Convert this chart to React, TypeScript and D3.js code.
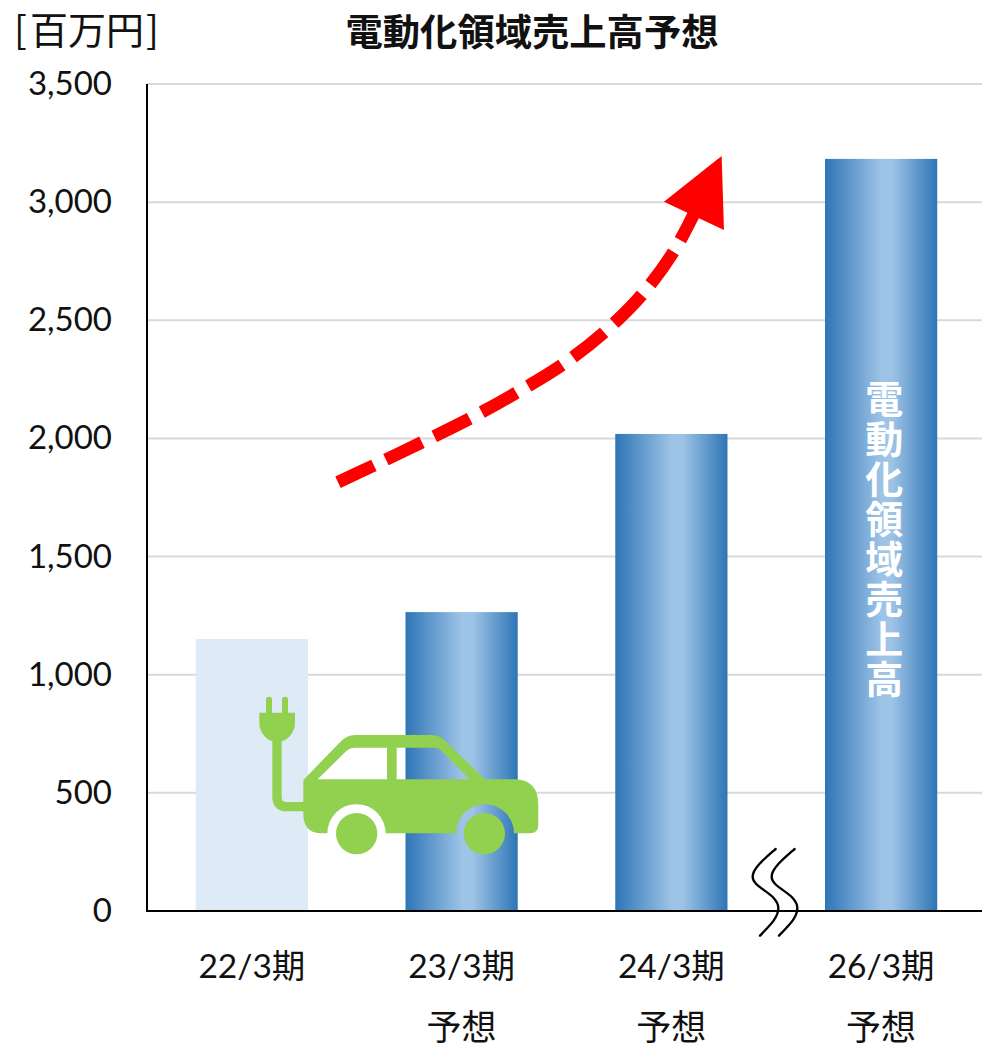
import React from 'react';
import * as d3 from 'd3';

const categories = ['22/3期', '23/3期', '24/3期', '26/3期'];
const subLabels = ['', '予想', '予想', '予想'];
const values = [1151, 1265, 2019, 3183];
const yTicks = [0, 500, 1000, 1500, 2000, 2500, 3000, 3500];
const title = '電動化領域売上高予想';
const unit = '[百万円]';
const barLabel = '電動化領域売上高';

const arrowPts: [number, number][] = [[54, 1027], [162, 976], [306, 907], [449, 836], [590, 758], [726, 675], [851, 578], [965, 465], [1061, 335], [1125, 215]];

const W = 982, H = 1044;
const JP = '"Noto Sans CJK JP", sans-serif';
const LAT = 'Lato, "Noto Sans CJK JP", sans-serif';

const carBody =
  'M190,300 L300,187 Q320,165 345,165 L575,165 Q600,165 620,187 L735,298 L825,298 Q895,300 895,375 L895,435 Q895,460 870,460 L822,460 A87,87 0 0 0 648,460 L437,460 A87,87 0 0 0 262,460 L240,460 Q190,458 190,400 Z ' +
  'M233,298 L320,212 Q330,203 345,203 L441,203 L441,298 Z M470,203 L585,203 Q597,203 605,212 L688,298 L470,298 Z';

export default function App() {
  const x = d3.scaleBand<string>().domain(categories).range([147, 986]).paddingInner(0.465).paddingOuter(0.2325);
  const y = d3.scaleLinear().domain([0, 3500]).range([911, 84]);
  const arrowPath = d3.line().curve(d3.curveCatmullRom)(arrowPts) as string;
  const lx = x(categories[3])! + x.bandwidth() / 2;
  return (
    <svg width={W} height={H} viewBox={`0 0 ${W} ${H}`} style={{ position: 'absolute', left: 0, top: 0, background: '#fff' }}>
      <defs>
        <linearGradient id="barGrad" x1="0" x2="1" y1="0" y2="0">
          <stop offset="0" stopColor="#2E75B6" />
          <stop offset="0.5" stopColor="#9DC3E6" />
          <stop offset="0.6" stopColor="#9DC3E6" />
          <stop offset="1" stopColor="#2E75B6" />
        </linearGradient>
      </defs>
      {yTicks.filter(t => t > 0).map(t => (
        <line key={t} x1={147} x2={W} y1={y(t)} y2={y(t)} stroke="#d9d9d9" strokeWidth={2} />
      ))}
      {values.map((v, i) => (
        <rect key={categories[i]} x={x(categories[i])} width={x.bandwidth()} y={y(v)} height={y(0) - y(v)}
          fill={i === 0 ? '#DEEAF6' : 'url(#barGrad)'} />
      ))}
      <line x1={147} x2={147} y1={84} y2={912} stroke="#000" strokeWidth={2} />
      <line x1={146} x2={W} y1={911} y2={911} stroke="#000" strokeWidth={2} />
      {yTicks.map(t => (
        <text key={t} x={112} y={y(t) + 11} textAnchor="end" fontFamily={LAT} fontSize={33} fill="#111">
          {d3.format(',')(t)}
        </text>
      ))}
      {categories.map((c, i) => (
        <g key={c} textAnchor="middle" fontFamily={LAT} fontSize={33.5} fill="#111">
          <text x={x(c)! + x.bandwidth() / 2} y={978}>{c}</text>
          {subLabels[i] && <text x={x(c)! + x.bandwidth() / 2} y={1040} fontFamily={JP} fontSize={35}>{subLabels[i]}</text>}
        </g>
      ))}
      <text x={532} y={46} textAnchor="middle" fontFamily={JP} fontWeight={700} fontSize={37.3} fill="#111">{title}</text>
      <text x="14 30 68 106 146" y={44} fontFamily={JP} fontSize={38} fill="#111">{unit}</text>
      <text x={lx + 3} y={380} fontFamily={JP} fontWeight={700} fontSize={38} fill="#fff"
        style={{ writingMode: 'vertical-rl', textOrientation: 'upright', letterSpacing: '2px' }}>{barLabel}</text>
      {/* break marks */}
      <g transform="translate(730,830) scale(0.3333)" fill="none" stroke="#000" strokeWidth={7} strokeLinecap="round">
        <path d="M137,57 C105,85 68,115 68,140 C68,175 145,190 145,235 C145,265 115,290 90,317" />
        <path d="M194,57 C162,85 125,115 125,140 C125,175 202,190 202,235 C202,265 172,290 147,317" />
      </g>
      {/* arrow */}
      <g transform="translate(320,140) scale(0.3333)">
        <path d={arrowPath} fill="none" stroke="#FF0000" strokeWidth={38} strokeDasharray="119 41" />
        <path d="M1205,48 L1212,270 L1032,185 Z" fill="#FF0000" />
      </g>
      {/* car icon */}
      <g transform="translate(240,680) scale(0.3333)" fill="#92D050">
        <path d={carBody} fillRule="evenodd" />
        <circle cx={350} cy={461} r={62} />
        <circle cx={733} cy={461} r={62} />
        <rect x={78} y={50} width={18} height={60} rx={9} />
        <rect x={126} y={50} width={18} height={60} rx={9} />
        <path d="M58,98 L165,98 L165,128 A53.5,58 0 0 1 58,128 Z" />
        <path d="M111,170 L111,350 Q111,380 140,380 L195,380" fill="none" stroke="#92D050" strokeWidth={28} />
      </g>
    </svg>
  );
}
